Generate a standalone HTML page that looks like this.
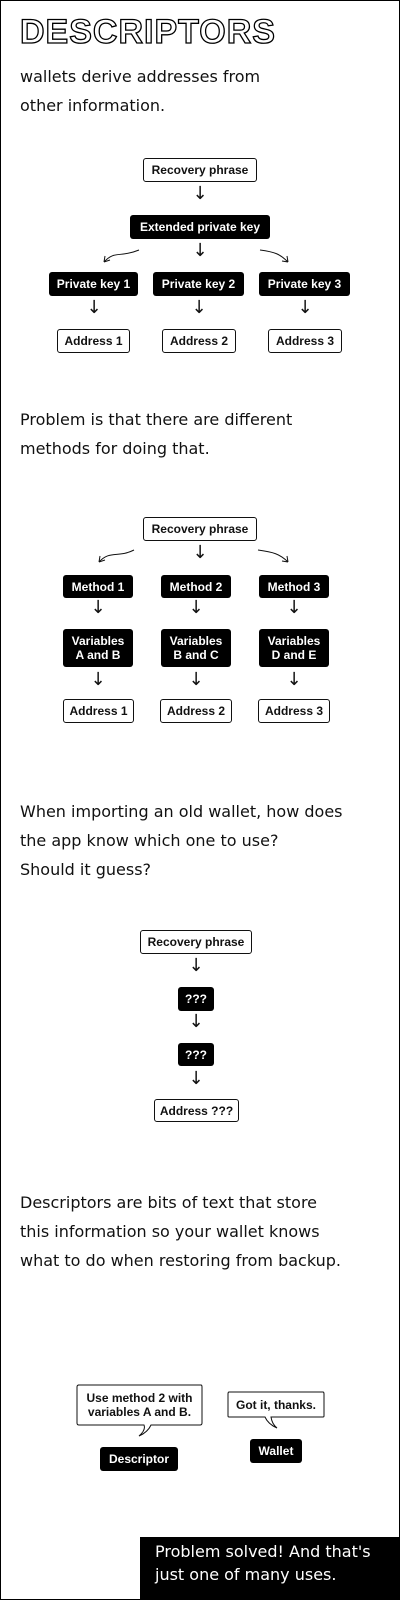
<!DOCTYPE html>
<html><head><meta charset="utf-8"><style>
*{margin:0;padding:0;box-sizing:border-box}
body{width:400px;height:1600px;position:relative;background:#fff;font-family:"Liberation Sans",sans-serif;overflow:hidden}
.frame{position:absolute;left:0;top:0;width:400px;height:1600px;border:1px solid #000}
.t{position:absolute;left:20px;font-size:16px;color:#111;line-height:29px;font-family:"DejaVu Sans","Liberation Sans",sans-serif;font-weight:normal;letter-spacing:0}
.b{position:absolute;display:flex;align-items:center;justify-content:center;text-align:center;font-size:12px;font-weight:bold;border-radius:3px;line-height:14px;white-space:nowrap}
.w{background:#fff;border:1px solid #111;color:#111}
.k{background:#000;color:#fff}
.a{position:absolute;font-size:18px;width:20px;text-align:center;color:#111;font-family:"DejaVu Sans",sans-serif}
h1{position:absolute;left:20px;top:13px;font-size:34px;font-weight:900;color:#fff;-webkit-text-stroke:1.3px #000;letter-spacing:1px;font-family:"Liberation Sans",sans-serif}
</style></head><body>
<div class="frame"></div>
<h1>DESCRIPTORS</h1>
<div class="t" style="top:62px">wallets derive addresses from<br>other information.</div>

<div class="b w" style="left:143px;top:158px;width:114px;height:24px">Recovery phrase</div>
<div class="a" style="left:190px;top:183px">↓</div>
<div class="b k" style="left:130px;top:215px;width:140px;height:24px">Extended private key</div>
<svg style="position:absolute;left:0;top:240px" width="400" height="30"><g fill="none" stroke="#111" stroke-width="1">
<path d="M139 10 C120 18 115 10 104 22 M104 22 l1 -6 M104 22 l6 -2"/>
<path d="M260 10 C275 12 280 14 288 22 M288 22 l-1 -6 M288 22 l-6 -1"/></g></svg>
<div class="a" style="left:190px;top:240px">↓</div>
<div class="b k" style="left:49px;top:272px;width:89px;height:24px">Private key 1</div>
<div class="b k" style="left:153px;top:272px;width:91px;height:24px">Private key 2</div>
<div class="b k" style="left:259px;top:272px;width:91px;height:24px">Private key 3</div>
<div class="a" style="left:84px;top:297px">↓</div>
<div class="a" style="left:189px;top:297px">↓</div>
<div class="a" style="left:295px;top:297px">↓</div>
<div class="b w" style="left:57px;top:329px;width:73px;height:24px">Address 1</div>
<div class="b w" style="left:162px;top:329px;width:74px;height:24px">Address 2</div>
<div class="b w" style="left:268px;top:329px;width:74px;height:24px">Address 3</div>

<div class="t" style="top:405px">Problem is that there are different<br>methods for doing that.</div>
<div class="b w" style="left:143px;top:517px;width:114px;height:24px">Recovery phrase</div>
<svg style="position:absolute;left:0;top:540px" width="400" height="30"><g fill="none" stroke="#111" stroke-width="1">
<path d="M134 10 C118 18 110 10 99 22 M99 22 l1 -6 M99 22 l6 -2"/>
<path d="M258 10 C273 12 280 14 288 22 M288 22 l-1 -6 M288 22 l-6 -1"/></g></svg>
<div class="a" style="left:190px;top:542px">↓</div>
<div class="b k" style="left:63px;top:575px;width:70px;height:23px">Method 1</div>
<div class="b k" style="left:161px;top:575px;width:70px;height:23px">Method 2</div>
<div class="b k" style="left:259px;top:575px;width:70px;height:23px">Method 3</div>
<div class="a" style="left:88px;top:597px">↓</div>
<div class="a" style="left:186px;top:597px">↓</div>
<div class="a" style="left:284px;top:597px">↓</div>
<div class="b k" style="left:63px;top:629px;width:70px;height:38px">Variables<br>A and B</div>
<div class="b k" style="left:161px;top:629px;width:70px;height:38px">Variables<br>B and C</div>
<div class="b k" style="left:259px;top:629px;width:70px;height:38px">Variables<br>D and E</div>
<div class="a" style="left:88px;top:669px">↓</div>
<div class="a" style="left:186px;top:669px">↓</div>
<div class="a" style="left:284px;top:669px">↓</div>
<div class="b w" style="left:63px;top:699px;width:71px;height:24px">Address 1</div>
<div class="b w" style="left:160px;top:699px;width:72px;height:24px">Address 2</div>
<div class="b w" style="left:258px;top:699px;width:72px;height:24px">Address 3</div>

<div class="t" style="top:797px">When importing an old wallet, how does<br>the app know which one to use?<br>Should it guess?</div>
<div class="b w" style="left:140px;top:930px;width:112px;height:24px">Recovery phrase</div>
<div class="a" style="left:186px;top:955px">↓</div>
<div class="b k" style="left:178px;top:987px;width:36px;height:24px">???</div>
<div class="a" style="left:186px;top:1011px">↓</div>
<div class="b k" style="left:178px;top:1043px;width:36px;height:23px">???</div>
<div class="a" style="left:186px;top:1068px">↓</div>
<div class="b w" style="left:154px;top:1099px;width:85px;height:23px">Address ???</div>

<div class="t" style="top:1188px">Descriptors are bits of text that store<br>this information so your wallet knows<br>what to do when restoring from backup.</div>

<svg style="position:absolute;left:0;top:1380px" width="400" height="70"><g fill="#fff" stroke="#111" stroke-width="1">
<path d="M78 5 H201 Q202 5 202 7 V43 Q202 45 200 45 H151 Q148 52 139 56 Q146 50 144 45 H79 Q77 45 77 43 V7 Q77 5 79 5 Z"/>
<path d="M229 12 H323 Q324 12 324 14 V36 Q324 37 323 37 H271 Q272 44 277 48 Q268 44 265 37 H229 Q228 37 228 36 V14 Q228 12 229 12 Z"/></g></svg>
<div class="b" style="left:77px;top:1385px;width:125px;height:40px;color:#111">Use method 2 with<br>variables A and B.</div>
<div class="b" style="left:228px;top:1392px;width:96px;height:25px;color:#111">Got it, thanks.</div>
<div class="b k" style="left:100px;top:1447px;width:78px;height:24px">Descriptor</div>
<div class="b k" style="left:250px;top:1439px;width:52px;height:24px">Wallet</div>

<div style="position:absolute;left:140px;top:1537px;width:260px;height:63px;background:#000"></div>
<div class="t" style="left:155px;top:1540px;color:#fff;line-height:23px">Problem solved! And that's<br>just one of many uses.</div>
</body></html>
